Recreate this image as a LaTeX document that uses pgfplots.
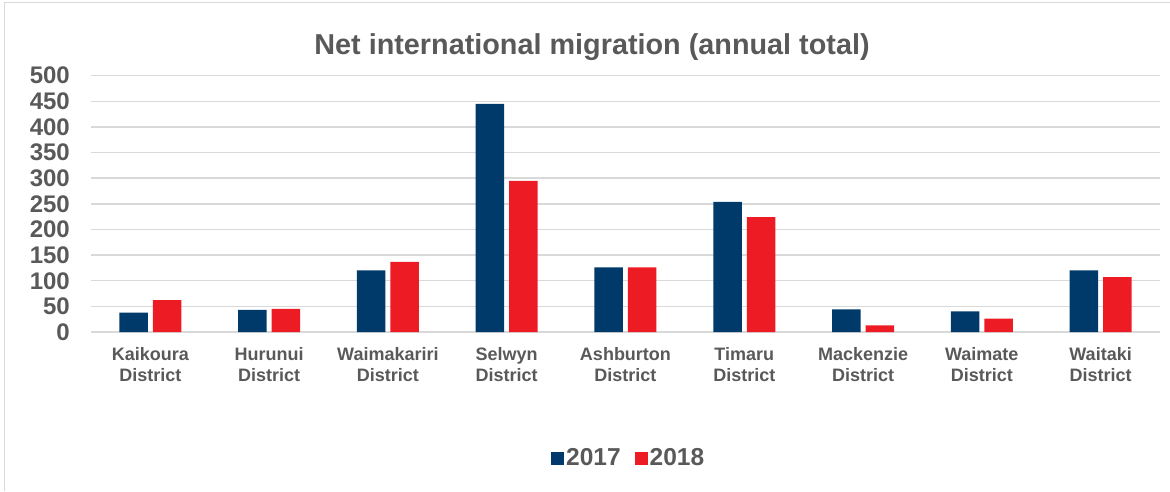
\documentclass[border=0pt]{standalone}
\usepackage{pgfplots}
\pgfplotsset{compat=1.18}
\usepackage{fontspec}
\setmainfont{Liberation Sans}
\definecolor{navy}{HTML}{003A6B}
\definecolor{redb}{HTML}{ED1C24}
\definecolor{txt}{HTML}{595959}
\definecolor{gridc}{HTML}{D9D9D9}
\begin{document}
\begin{tikzpicture}[x=1pt,y=1pt]
\useasboundingbox (0,0) rectangle (1170,491);
\draw[gridc, line width=1pt] (4.5,0) -- (4.5,488.5) -- (1170,488.5);
\node[text=txt, font=\fontsize{28.8}{34}\selectfont\bfseries] at (592,444) {Net international migration (annual total)};
\begin{axis}[
  at={(91pt,159pt)}, anchor=south west,
  scale only axis, width=1069pt, height=256.3pt,
  ymin=0, ymax=500, ytick={0,50,...,500},
  xmin=-0.5, xmax=8.5, xtick={0,...,8},
  xticklabels={{Kaikoura\\District},{Hurunui\\District},{Waimakariri\\District},{Selwyn\\District},{Ashburton\\District},{Timaru\\District},{Mackenzie\\District},{Waimate\\District},{Waitaki\\District}},
  ybar=5pt, bar width=28.5pt,
  axis line style={draw=none},
  major tick length=0pt,
  ymajorgrids, grid style={gridc, line width=1.5pt},
  yticklabel style={text=txt, font=\fontsize{24}{28}\selectfont\bfseries, anchor=east, inner sep=0pt, xshift=-21pt},
  xticklabel style={text=txt, font=\fontsize{18}{21}\selectfont\bfseries, align=center, anchor=north, inner sep=0pt, yshift=-15.5pt},
  /pgf/number format/assume math mode=true,
  clip=false,
  legend style={at={(0.503,-0.4917)}, anchor=center, draw=none, fill=none, legend columns=2,
    font=\fontsize{24.5}{28}\selectfont\bfseries, text=txt,
    /tikz/every even column/.append style={column sep=12pt}},
]
\addplot[fill=navy, draw=none, legend image code/.code={\fill[navy] (0pt,-6.5pt) rectangle (13pt,6.5pt);}] coordinates {(0,38) (1,43) (2,120) (3,445) (4,126) (5,254) (6,44) (7,40) (8,120)};
\addplot[fill=redb, draw=none, legend image code/.code={\fill[redb] (0pt,-6.5pt) rectangle (13pt,6.5pt);}] coordinates {(0,62) (1,45) (2,137) (3,295) (4,126) (5,224) (6,13) (7,26) (8,107)};
\legend{2017,2018}
\end{axis}
\end{tikzpicture}
\end{document}
